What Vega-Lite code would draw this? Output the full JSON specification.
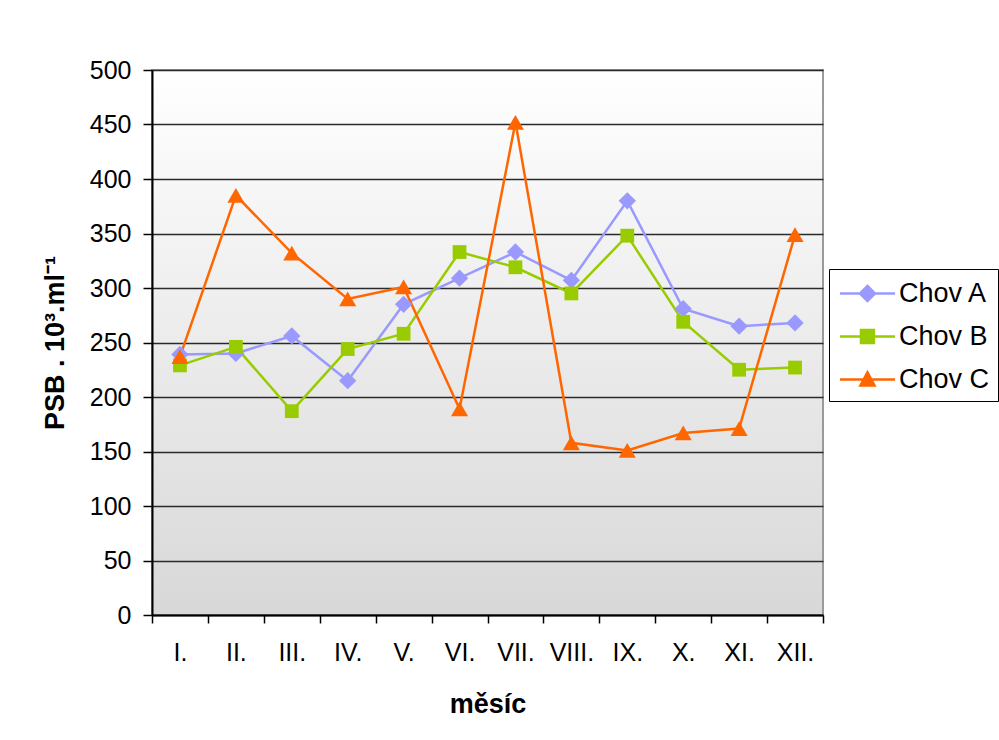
{
  "$schema": "https://vega.github.io/schema/vega-lite/v6.json",
  "width": 671,
  "height": 545,
  "autosize": {"type": "none"},
  "padding": {"left": 152, "top": 70, "right": 176, "bottom": 125},
  "background": "#ffffff",
  "data": {
    "values": [
      {"mesic": "I.", "chov": "Chov A", "psb": 239},
      {"mesic": "II.", "chov": "Chov A", "psb": 240},
      {"mesic": "III.", "chov": "Chov A", "psb": 256},
      {"mesic": "IV.", "chov": "Chov A", "psb": 215},
      {"mesic": "V.", "chov": "Chov A", "psb": 285},
      {"mesic": "VI.", "chov": "Chov A", "psb": 309},
      {"mesic": "VII.", "chov": "Chov A", "psb": 333},
      {"mesic": "VIII.", "chov": "Chov A", "psb": 307},
      {"mesic": "IX.", "chov": "Chov A", "psb": 380},
      {"mesic": "X.", "chov": "Chov A", "psb": 281},
      {"mesic": "XI.", "chov": "Chov A", "psb": 265},
      {"mesic": "XII.", "chov": "Chov A", "psb": 268},
      {"mesic": "I.", "chov": "Chov B", "psb": 229},
      {"mesic": "II.", "chov": "Chov B", "psb": 246},
      {"mesic": "III.", "chov": "Chov B", "psb": 187},
      {"mesic": "IV.", "chov": "Chov B", "psb": 244},
      {"mesic": "V.", "chov": "Chov B", "psb": 258},
      {"mesic": "VI.", "chov": "Chov B", "psb": 333},
      {"mesic": "VII.", "chov": "Chov B", "psb": 319},
      {"mesic": "VIII.", "chov": "Chov B", "psb": 295},
      {"mesic": "IX.", "chov": "Chov B", "psb": 348},
      {"mesic": "X.", "chov": "Chov B", "psb": 269},
      {"mesic": "XI.", "chov": "Chov B", "psb": 225},
      {"mesic": "XII.", "chov": "Chov B", "psb": 227},
      {"mesic": "I.", "chov": "Chov C", "psb": 237},
      {"mesic": "II.", "chov": "Chov C", "psb": 385},
      {"mesic": "III.", "chov": "Chov C", "psb": 332},
      {"mesic": "IV.", "chov": "Chov C", "psb": 290},
      {"mesic": "V.", "chov": "Chov C", "psb": 301},
      {"mesic": "VI.", "chov": "Chov C", "psb": 189},
      {"mesic": "VII.", "chov": "Chov C", "psb": 452},
      {"mesic": "VIII.", "chov": "Chov C", "psb": 158},
      {"mesic": "IX.", "chov": "Chov C", "psb": 151},
      {"mesic": "X.", "chov": "Chov C", "psb": 167},
      {"mesic": "XI.", "chov": "Chov C", "psb": 171},
      {"mesic": "XII.", "chov": "Chov C", "psb": 349}
    ]
  },
  "encoding": {
    "x": {
      "field": "mesic",
      "type": "ordinal",
      "sort": null,
      "scale": {"type": "band", "paddingInner": 0, "paddingOuter": 0},
      "axis": {
        "title": "měsíc",
        "labelAngle": 0,
        "grid": false,
        "tickBand": "extent",
        "tickSize": 8,
        "labelPadding": 17,
        "titlePadding": 26
      }
    },
    "y": {
      "field": "psb",
      "type": "quantitative",
      "scale": {"domain": [0, 500], "nice": false, "zero": true},
      "axis": {
        "title": "PSB . 10³.ml⁻¹",
        "values": [0, 50, 100, 150, 200, 250, 300, 350, 400, 450, 500],
        "grid": true,
        "tickSize": 9,
        "labelPadding": 12,
        "titlePadding": 20
      }
    }
  },
  "layer": [
    {
      "mark": {"type": "line", "strokeWidth": 2.5},
      "encoding": {
        "stroke": {
          "field": "chov",
          "type": "nominal",
          "scale": {
            "domain": ["Chov A", "Chov B", "Chov C"],
            "range": ["#9999ff", "#99cc00", "#ff6600"]
          },
          "legend": {
            "orient": "none",
            "legendX": 677,
            "legendY": 199,
            "title": null,
            "padding": 8,
            "strokeColor": "#000000",
            "fillColor": "#ffffff",
            "labelFont": "Liberation Sans",
            "labelFontSize": 27,
            "labelColor": "#000000",
            "labelOffset": 29,
            "labelLimit": 300,
            "symbolSize": 900,
            "symbolStrokeWidth": 2.5,
            "symbolOpacity": 1,
            "rowPadding": 13
          }
        }
      }
    },
    {
      "transform": [{"filter": {"field": "chov", "equal": "Chov A"}}],
      "mark": {"type": "point", "shape": "diamond", "size": 300, "filled": true, "opacity": 1},
      "encoding": {
        "fill": {
          "field": "chov",
          "type": "nominal",
          "scale": {
            "domain": ["Chov A", "Chov B", "Chov C"],
            "range": ["#9999ff", "#99cc00", "#ff6600"]
          }
        }
      }
    },
    {
      "transform": [{"filter": {"field": "chov", "equal": "Chov B"}}],
      "mark": {"type": "point", "shape": "square", "size": 190, "filled": true, "opacity": 1},
      "encoding": {
        "fill": {"field": "chov", "type": "nominal"}
      }
    },
    {
      "transform": [{"filter": {"field": "chov", "equal": "Chov C"}}],
      "mark": {"type": "point", "shape": "triangle-up", "size": 290, "filled": true, "opacity": 1},
      "encoding": {
        "fill": {"field": "chov", "type": "nominal"}
      }
    },
    {
      "mark": {"type": "point", "filled": true, "opacity": 0, "size": 10},
      "encoding": {
        "fill": {"field": "chov", "type": "nominal"},
        "stroke": {"field": "chov", "type": "nominal"},
        "shape": {
          "field": "chov",
          "type": "nominal",
          "scale": {
            "domain": ["Chov A", "Chov B", "Chov C"],
            "range": [
              "M-0.9,0H2.77M0.93,-0.5L1.43,0L0.93,0.5L0.43,0Z",
              "M-0.9,0H2.77M0.5,-0.43H1.36V0.43H0.5Z",
              "M-0.9,0H2.77M0.93,-0.48L1.4,0.4H0.46Z"
            ]
          }
        }
      }
    }
  ],
  "config": {
    "font": "Liberation Sans",
    "view": {
      "fill": {
        "gradient": "linear",
        "x1": 0, "y1": 0, "x2": 0, "y2": 1,
        "stops": [
          {"offset": 0, "color": "#ffffff"},
          {"offset": 1, "color": "#d8d8d8"}
        ]
      },
      "stroke": "#9a9a9a",
      "strokeWidth": 2
    },
    "legend": {
      "symbolSize": 900,
      "symbolStrokeWidth": 2.5,
      "symbolOpacity": 1
    },
    "axis": {
      "labelFont": "Liberation Sans",
      "labelFontSize": 25,
      "labelColor": "#000000",
      "titleFont": "Liberation Sans",
      "titleFontSize": 27,
      "titleFontWeight": "bold",
      "titleColor": "#000000",
      "domainColor": "#000000",
      "domainWidth": 2,
      "tickColor": "#000000",
      "tickWidth": 1.5,
      "gridColor": "#2a2a2a",
      "gridWidth": 1.5,
      "gridOpacity": 1
    }
  }
}
